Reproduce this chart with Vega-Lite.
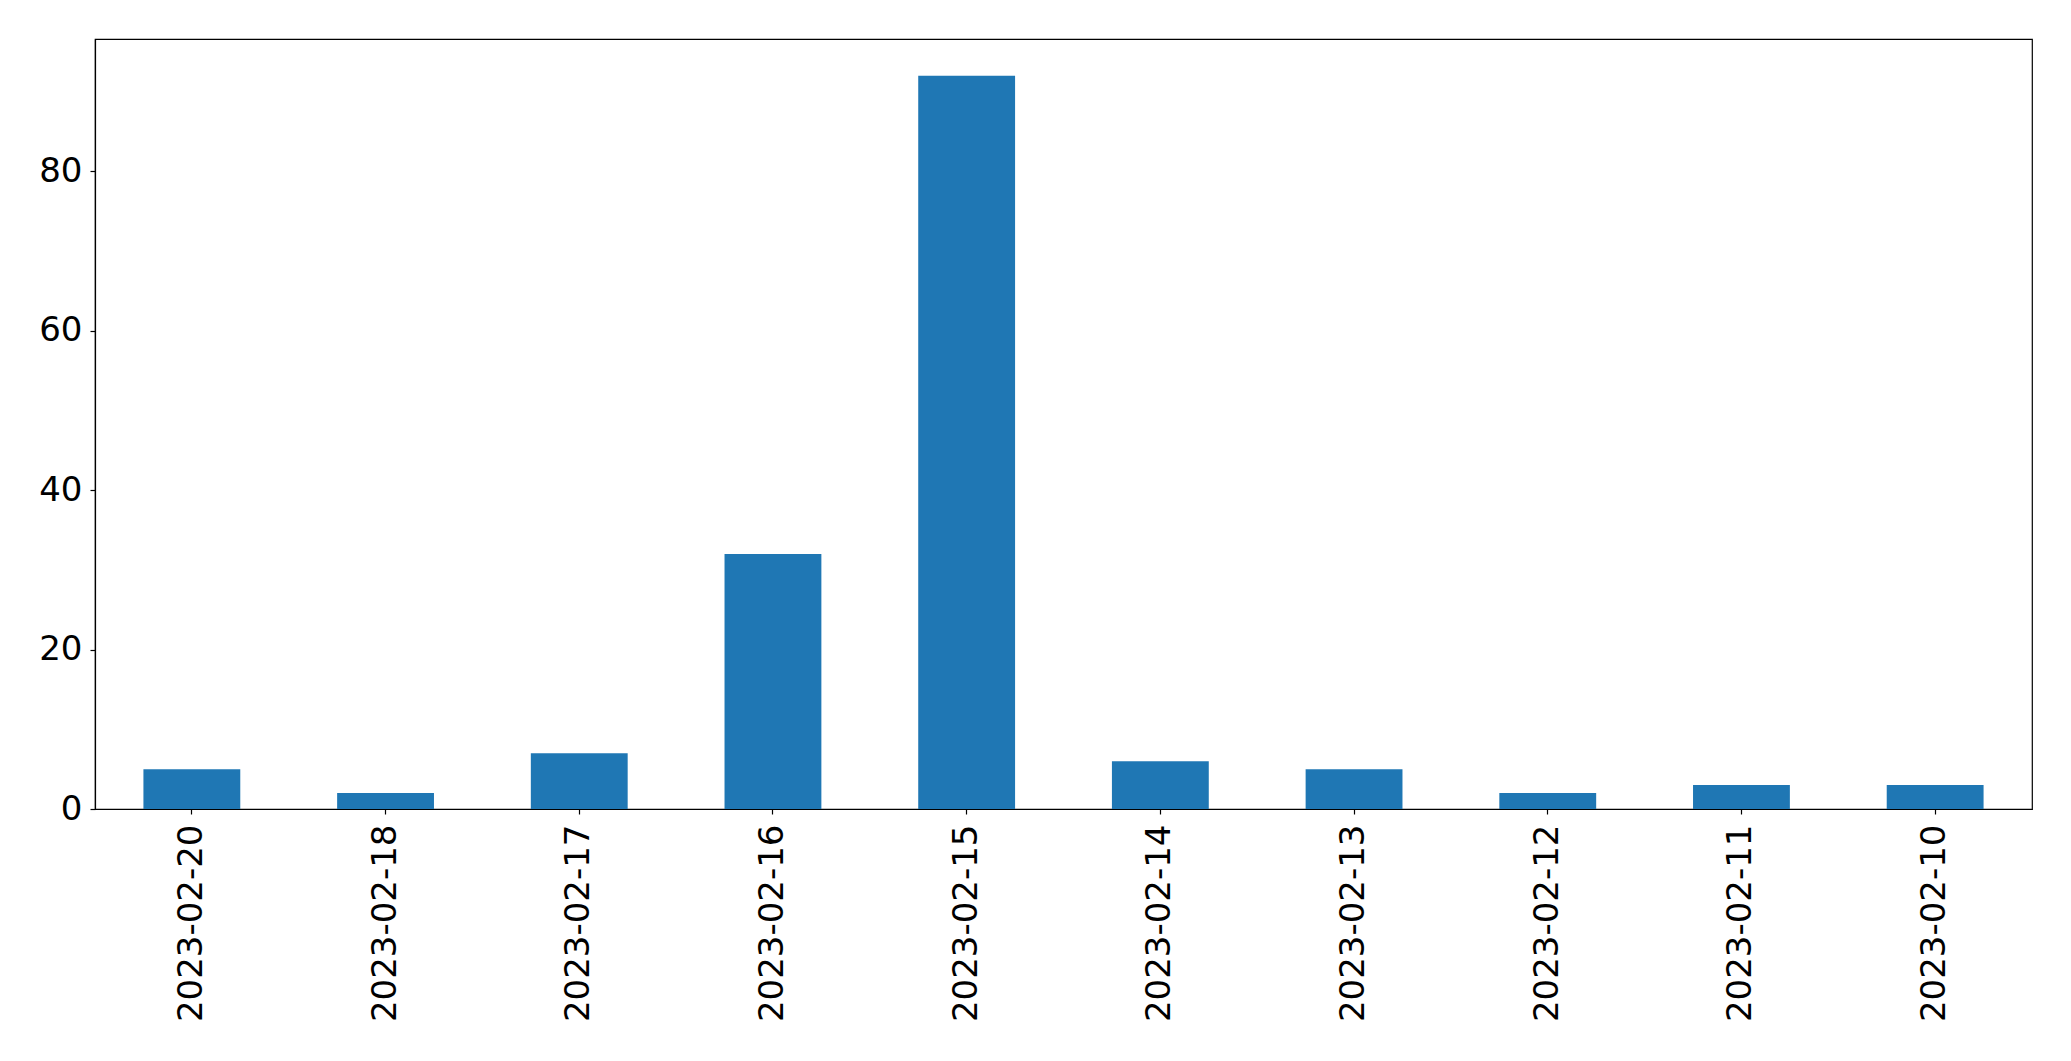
{
  "$schema": "https://vega.github.io/schema/vega-lite/v6.json",
  "autosize": "none",
  "width": 1937,
  "height": 770,
  "padding": {"left": 95, "top": 39, "right": 39, "bottom": 252},
  "background": "white",
  "data": {"values": [
    {"date": "2023-02-20", "count": 5},
    {"date": "2023-02-18", "count": 2},
    {"date": "2023-02-17", "count": 7},
    {"date": "2023-02-16", "count": 32},
    {"date": "2023-02-15", "count": 92},
    {"date": "2023-02-14", "count": 6},
    {"date": "2023-02-13", "count": 5},
    {"date": "2023-02-12", "count": 2},
    {"date": "2023-02-11", "count": 3},
    {"date": "2023-02-10", "count": 3}
  ]},
  "mark": {"type": "bar", "color": "#1f77b4"},
  "encoding": {
    "x": {"field": "date", "type": "nominal", "sort": null,
      "scale": {"paddingInner": 0.5, "paddingOuter": 0.25},
      "axis": {"title": null, "labelAngle": -90, "labelFontSize": 34, "labelFont": "DejaVu Sans", "labelColor": "black", "labelLimit": 0,
        "tickColor": "black", "tickSize": 5, "labelPadding": 10, "domainColor": "black", "labelOverlap": false}},
    "y": {"field": "count", "type": "quantitative",
      "scale": {"domain": [0, 96.6], "nice": false, "zero": true},
      "axis": {"title": null, "values": [0, 20, 40, 60, 80], "grid": false, "labelFontSize": 34, "labelFont": "DejaVu Sans", "labelColor": "black",
        "tickColor": "black", "tickSize": 5, "labelPadding": 8, "domainColor": "black"}}
  },
  "config": {"view": {"stroke": "black", "strokeWidth": 1.2}, "axis": {"domainWidth": 1.2, "tickWidth": 1.2}}
}
